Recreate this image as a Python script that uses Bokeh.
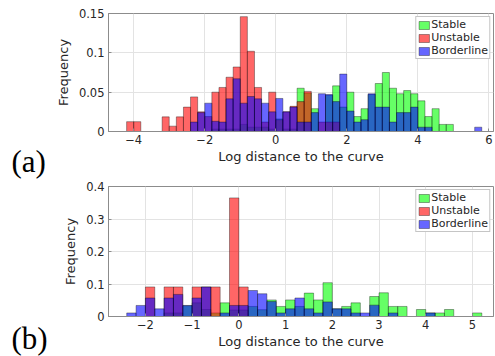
from bokeh.plotting import figure
from bokeh.layouts import column, row
from bokeh.models import FixedTicker, Label, Legend, LegendItem, ColumnDataSource
from bokeh.embed import file_html
from bokeh.resources import INLINE

BIN_WIDTH = 0.2

# ---------------- Panel (a) ----------------
a_first_edge = -4.2
a_stable = [0, 0, 0, 0, 0, 0, 0, 0, 0, 0, 0, 0,
            0.003, 0.003, 0.003, 0.003, 0.009, 0.0055, 0.0055, 0.0055, 0.003, 0.016,
            0.003, 0.003, 0.055, 0.049, 0.029, 0, 0.046, 0.058, 0.031, 0.050,
            0.019, 0.029, 0.047, 0.061, 0.075, 0.055, 0.048, 0.052, 0.048, 0.039,
            0.019, 0.029, 0.009, 0.009, 0, 0, 0, 0]
a_unstable = [0.0125, 0.0125, 0, 0, 0, 0.0186, 0.0068, 0.0186, 0.031, 0.044,
              0.025, 0.019, 0.050, 0.056, 0.069, 0.082, 0.146, 0.102, 0.056, 0.012,
              0.050, 0.015, 0.025, 0.032, 0.038, 0.051, 0, 0.012, 0.012, 0.012,
              0, 0, 0, 0, 0, 0, 0, 0, 0, 0, 0, 0, 0, 0, 0, 0, 0, 0, 0, 0]
a_borderline = [0, 0, 0, 0, 0, 0, 0, 0, 0, 0.012, 0.024, 0.036, 0.013, 0.012,
                0.0415, 0.067, 0.036, 0.0445, 0.0415, 0.036, 0.025, 0.042, 0.025,
                0.031, 0.012, 0.012, 0.024, 0.048, 0.047, 0.038, 0.073, 0.026,
                0.012, 0.015, 0.048, 0.031, 0.031, 0.012, 0.024, 0.024, 0.031,
                0.0055, 0.0055, 0, 0, 0, 0, 0, 0, 0.0055]
a_xticks = [-4, -2, 0, 2, 4, 6]
a_yticks = [0, 0.05, 0.1, 0.15]
a_ytick_labels = ["0", "0.05", "0.1", "0.15"]

# ---------------- Panel (b) ----------------
b_first_edge = -2.4
b_stable = [0, 0, 0, 0, 0.011, 0.011, 0.033, 0.042, 0.0215, 0.011, 0.042, 0.02,
            0.02, 0.031, 0.021, 0.051, 0.031, 0.051, 0.031, 0.072, 0.051, 0.104,
            0.0236, 0.031, 0.042, 0, 0.0615, 0.073, 0.031, 0.031, 0, 0.0215,
            0.011, 0.011, 0.0215, 0, 0, 0.011]
b_unstable = [0, 0, 0.091, 0, 0.091, 0.091, 0, 0.091, 0.091, 0.091, 0, 0.365,
              0.091, 0, 0, 0, 0, 0, 0, 0, 0, 0, 0, 0, 0, 0, 0, 0, 0, 0, 0, 0,
              0, 0, 0, 0, 0, 0]
b_borderline = [0.011, 0.034, 0.057, 0.0236, 0.057, 0.068, 0.034, 0.057, 0.091,
                0, 0.011, 0.034, 0.034, 0.080, 0.070, 0.046, 0.011, 0.0236, 0.057,
                0.0236, 0.011, 0.045, 0.0236, 0.0236, 0.011, 0.011, 0.035, 0,
                0.011, 0, 0, 0, 0.011, 0, 0, 0, 0, 0]
b_xticks = [-2, -1, 0, 1, 2, 3, 4, 5]
b_yticks = [0, 0.1, 0.2, 0.3, 0.4]
b_ytick_labels = ["0", "0.1", "0.2", "0.3", "0.4"]

series_names = ["Stable", "Unstable", "Borderline"]
series_colors = ["#00ff00", "#ff0000", "#0000ff"]

AX = "#8c8c8c"
TXT = "#262626"
FONT = "DejaVu Sans"
TAG_W = 52


def make_tag(text, height, y):
    t = figure(width=TAG_W, height=height, x_axis_type=None, y_axis_type=None,
               output_backend="svg", toolbar_location=None, min_border=0,
               frame_align=False)
    t.outline_line_color = None
    t.grid.visible = False
    t.add_layout(Label(x=11, y=y, x_units="screen", y_units="screen",
                       text=text, text_font="Liberation Serif",
                       text_font_size="31px", text_color="black",
                       text_baseline="middle", text_align="left"))
    return t


def make_panel(first_edge, series, x_range, y_range, xticks, yticks, ylabels,
               height, top_border, bottom_border):
    p = figure(width=495 - TAG_W, height=height, x_range=x_range, y_range=y_range,
               output_backend="svg", toolbar_location=None,
               min_border_left=108 - TAG_W, min_border_right=2,
               min_border_top=top_border, min_border_bottom=bottom_border)
    items = []
    for name, color, vals in zip(series_names, series_colors, series):
        lefts = [first_edge + i * BIN_WIDTH for i, v in enumerate(vals) if v > 0]
        tops = [v for v in vals if v > 0]
        src = ColumnDataSource(dict(left=lefts,
                                    right=[l + BIN_WIDTH for l in lefts],
                                    top=tops, bottom=[0] * len(tops)))
        r = p.quad(left="left", right="right", top="top", bottom="bottom",
                   source=src, fill_color=color, fill_alpha=0.6,
                   line_color="black", line_alpha=0.35, line_width=1)
        items.append(LegendItem(label=name, renderers=[r]))

    legend = Legend(items=items, location="top_right", margin=3, padding=1,
                    spacing=0, glyph_width=13, glyph_height=10, label_height=13,
                    label_standoff=1, label_text_font=FONT,
                    label_text_font_size="11px", label_text_color=TXT,
                    border_line_color="#8c8c8c", background_fill_alpha=1)
    p.add_layout(legend)

    p.xaxis.ticker = FixedTicker(ticks=xticks)
    p.yaxis.ticker = FixedTicker(ticks=yticks)
    p.yaxis.major_label_overrides = {t: l for t, l in zip(yticks, ylabels)}
    p.xgrid.ticker = FixedTicker(ticks=xticks)
    p.ygrid.ticker = FixedTicker(ticks=yticks)
    p.grid.grid_line_color = "#e3e3e3"

    p.axis.axis_line_color = AX
    p.axis.major_tick_line_color = AX
    p.axis.minor_tick_line_color = None
    p.axis.major_tick_in = 3
    p.axis.major_tick_out = 0
    p.axis.major_label_text_font = FONT
    p.axis.major_label_text_font_size = "11.5px"
    p.axis.major_label_text_color = TXT
    p.axis.axis_label_text_font = FONT
    p.axis.axis_label_text_font_size = "13px"
    p.axis.axis_label_text_font_style = "normal"
    p.axis.axis_label_text_color = TXT
    p.xaxis.major_label_standoff = 3
    p.xaxis.axis_label_standoff = 2
    p.yaxis.major_label_standoff = 4
    p.yaxis.axis_label_standoff = 5
    p.xaxis.axis_label = "Log distance to the curve"
    p.yaxis.axis_label = "Frequency"
    p.outline_line_color = AX
    p.outline_line_alpha = 1
    return p


p1 = make_panel(a_first_edge, [a_stable, a_unstable, a_borderline],
                (-4.71, 6.13), (0, 0.15), a_xticks, a_yticks, a_ytick_labels,
                180, 13, 49)
p2 = make_panel(b_first_edge, [b_stable, b_unstable, b_borderline],
                (-2.79, 5.45), (0, 0.4), b_xticks, b_yticks, b_ytick_labels,
                176, 6, 40)
t1 = make_tag("(a)", 180, 19)
t2 = make_tag("(b)", 176, 18)

layout = column(row(t1, p1), row(t2, p2))
open("out.html", "w").write(file_html(layout, INLINE))
